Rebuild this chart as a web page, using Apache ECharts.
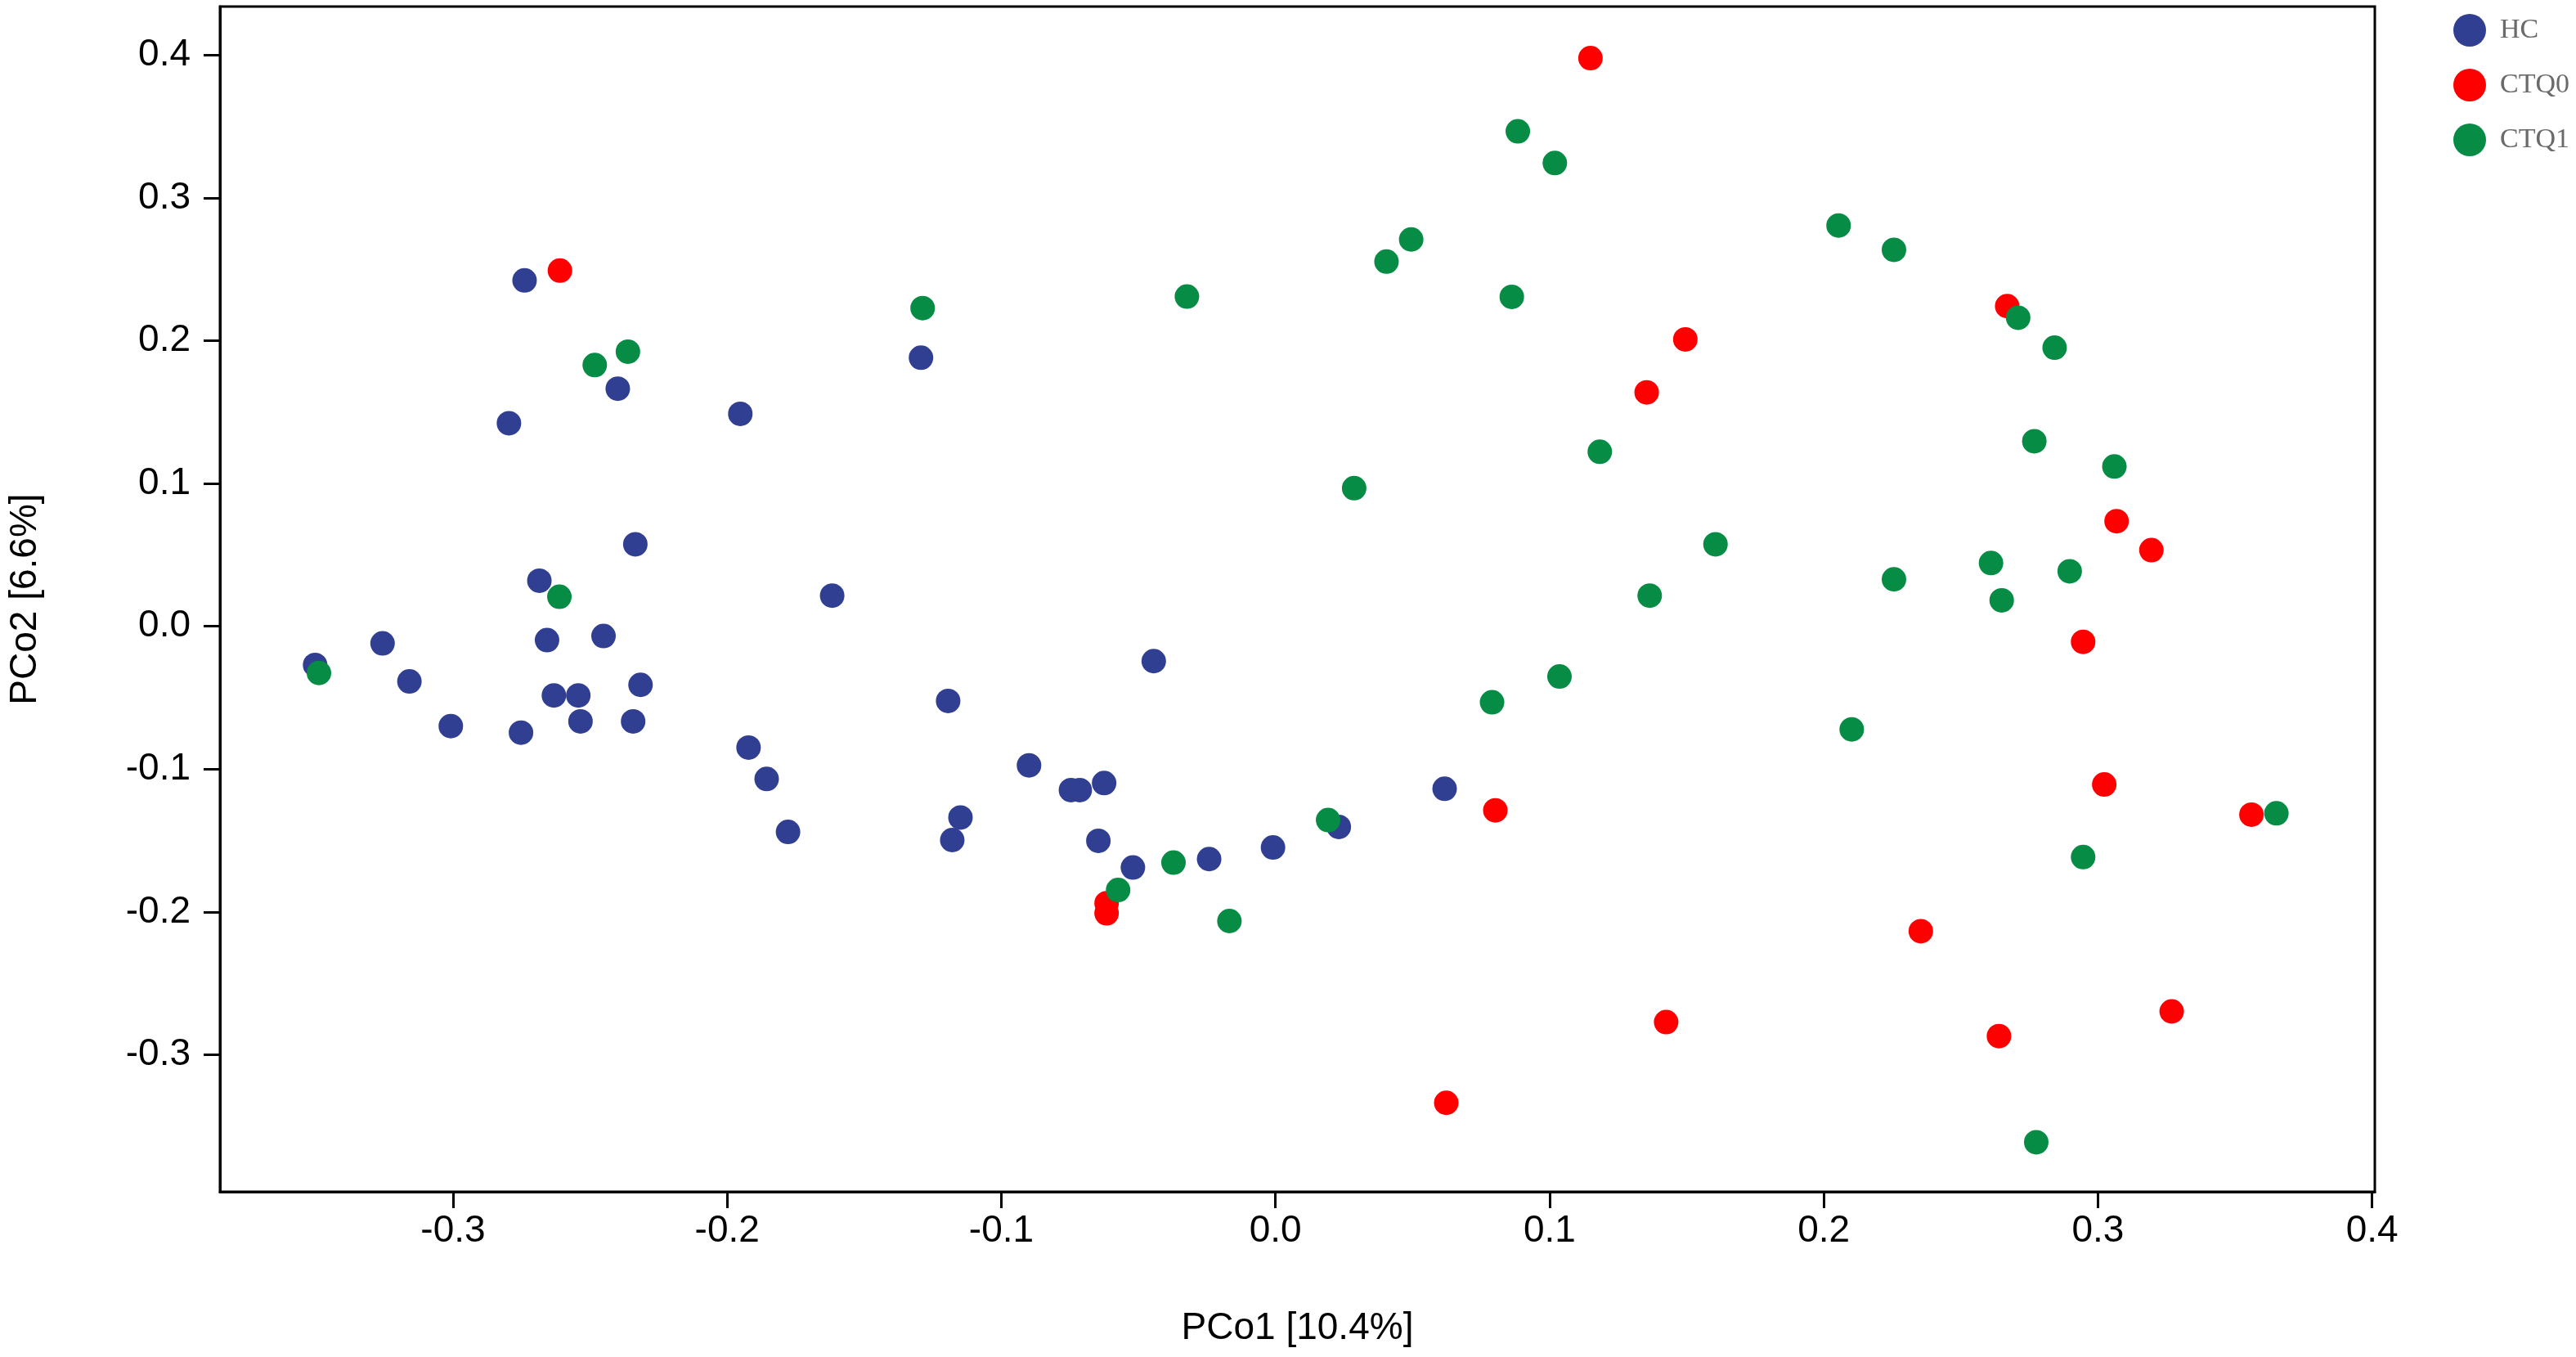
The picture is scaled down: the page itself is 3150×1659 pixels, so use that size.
<!DOCTYPE html>
<html>
<head>
<meta charset="utf-8">
<script src="https://cdn.jsdelivr.net/npm/echarts@6/dist/echarts.min.js"></script>
<style>
html,body{margin:0;padding:0;background:#fff;}
#chart{width:3150px;height:1659px;}
</style>
</head>
<body>
<div id="chart"></div>
<script>
// Tick labels
const xTicks = [-0.3, -0.2, -0.1, 0.0, 0.1, 0.2, 0.3, 0.4];
const yTicks = [-0.3, -0.2, -0.1, 0.0, 0.1, 0.2, 0.3, 0.4];
const groupNames = ['HC', 'CTQ0', 'CTQ1'];

// HC points [PCo1, PCo2]
const hcPoints = [
  [-0.3503, -0.0271], [-0.3257, -0.0120], [-0.3159, -0.0386], [-0.3008, -0.0699],
  [-0.2752, -0.0745], [-0.2739, 0.2422], [-0.2796, 0.1422], [-0.2685, 0.0319],
  [-0.2657, -0.0097], [-0.2632, -0.0484], [-0.2543, -0.0484], [-0.2535, -0.0666],
  [-0.2451, -0.0068], [-0.2399, 0.1664], [-0.2335, 0.0574], [-0.2316, -0.0410],
  [-0.2343, -0.0666], [-0.1952, 0.1488], [-0.1922, -0.0849], [-0.1856, -0.1069],
  [-0.1778, -0.1440], [-0.1617, 0.0215], [-0.1293, 0.1881], [-0.1194, -0.0523],
  [-0.1149, -0.1339], [-0.1179, -0.1497], [-0.0899, -0.0974], [-0.0746, -0.1147],
  [-0.0714, -0.1147], [-0.0625, -0.1098], [-0.0646, -0.1502], [-0.0520, -0.1689],
  [-0.0444, -0.0244], [-0.0242, -0.1630], [-0.0009, -0.1549], [0.0231, -0.1405],
  [0.0617, -0.1138]
];

// CTQ0 points
const ctq0Points = [
  [-0.2610, 0.2491], [-0.0616, -0.1939], [-0.0616, -0.2010], [0.0623, -0.3337],
  [0.0802, -0.1289], [0.1149, 0.3979], [0.1354, 0.1638], [0.1495, 0.2009],
  [0.1425, -0.2772], [0.2354, -0.2135], [0.2669, 0.2242], [0.2639, -0.2870],
  [0.2946, -0.0109], [0.3068, 0.0736], [0.3195, 0.0533], [0.3023, -0.1108],
  [0.3269, -0.2697], [0.3560, -0.1319]
];

// CTQ1 points
const ctq1Points = [
  [-0.3489, -0.0327], [-0.2612, 0.0207], [-0.2483, 0.1829], [-0.2362, 0.1923],
  [-0.1287, 0.2228], [-0.0574, -0.1847], [-0.0372, -0.1655], [-0.0323, 0.2309],
  [-0.0168, -0.2064], [0.0192, -0.1357], [0.0287, 0.0967], [0.0405, 0.2554],
  [0.0495, 0.2709], [0.0790, -0.0532], [0.0862, 0.2307], [0.0884, 0.3466],
  [0.1019, 0.3244], [0.1036, -0.0352], [0.1183, 0.1222], [0.1365, 0.0215],
  [0.1605, 0.0574], [0.2054, 0.2807], [0.2102, -0.0722], [0.2256, 0.2636],
  [0.2256, 0.0329], [0.2610, 0.0443], [0.2649, 0.0182], [0.2709, 0.2161],
  [0.2842, 0.1951], [0.2768, 0.1296], [0.2897, 0.0385], [0.3060, 0.1119],
  [0.2946, -0.1616], [0.2775, -0.3613], [0.3651, -0.1310]
];

const colors = ['#313F92', '#FF0000', '#078C45'];
const sansFont = '"Liberation Sans", Arial, sans-serif';

const chart = echarts.init(document.getElementById('chart'), null, {renderer: 'canvas'});
const axisCommon = {
  type: 'value',
  splitLine: {show: false},
  axisLine: {show: true, onZero: false, lineStyle: {color: '#000', width: 3}},
  axisTick: {show: true, length: 20, lineStyle: {color: '#000', width: 3}},
  nameLocation: 'middle',
  nameTextStyle: {fontFamily: sansFont, fontSize: 46, color: '#000'}
};
chart.setOption({
  animation: false,
  backgroundColor: '#fff',
  color: colors,
  grid: {
    left: 267, right: 246, top: 8, bottom: 202,
    show: true, borderColor: '#000', borderWidth: 3, backgroundColor: 'transparent'
  },
  legend: {
    orient: 'vertical',
    left: 2995, top: 12,
    itemWidth: 40, itemHeight: 40, itemGap: 27,
    icon: 'circle',
    data: groupNames,
    textStyle: {fontFamily: '"Liberation Serif", "DejaVu Serif", serif', fontSize: 34, color: '#6a6a6a', padding: [0, 0, 0, 12]}
  },
  xAxis: Object.assign({}, axisCommon, {
    min: -0.385, max: 0.401,
    name: 'PCo1 [10.4%]', nameGap: 144,
    axisTick: Object.assign({}, axisCommon.axisTick, {customValues: xTicks}),
    axisLabel: {customValues: xTicks, margin: 25, fontFamily: sansFont, fontSize: 46, color: '#000',
      formatter: v => Number(v).toFixed(1)}
  }),
  yAxis: Object.assign({}, axisCommon, {
    min: -0.396, max: 0.434,
    name: 'PCo2 [6.6%]', nameGap: 215,
    axisTick: Object.assign({}, axisCommon.axisTick, {customValues: yTicks}),
    axisLabel: {customValues: yTicks, margin: 36, fontFamily: sansFont, fontSize: 46, color: '#000',
      formatter: v => Number(v).toFixed(1)}
  }),
  series: [
    {name: groupNames[0], type: 'scatter', data: hcPoints, symbolSize: 30, itemStyle: {color: colors[0], opacity: 1}},
    {name: groupNames[1], type: 'scatter', data: ctq0Points, symbolSize: 30, itemStyle: {color: colors[1], opacity: 1}},
    {name: groupNames[2], type: 'scatter', data: ctq1Points, symbolSize: 30, itemStyle: {color: colors[2], opacity: 1}}
  ]
});
</script>
</body>
</html>
